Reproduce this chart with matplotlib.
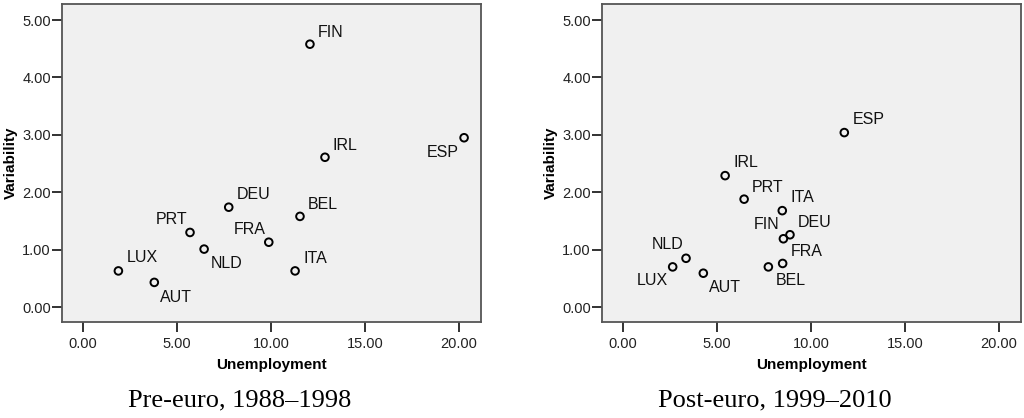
import matplotlib
matplotlib.use('Agg')
import matplotlib.pyplot as plt

# country codes and values
pre_codes = ['FIN', 'IRL', 'DEU', 'BEL', 'PRT', 'NLD', 'FRA', 'LUX', 'AUT', 'ITA', 'ESP']
pre_unemp = [12.07, 12.87, 7.75, 11.54, 5.69, 6.44, 9.88, 1.88, 3.79, 11.28, 20.27]
pre_var = [4.58, 2.61, 1.74, 1.58, 1.30, 1.01, 1.13, 0.63, 0.43, 0.63, 2.95]

post_codes = ['IRL', 'PRT', 'ITA', 'FIN', 'DEU', 'FRA', 'BEL', 'NLD', 'LUX', 'AUT', 'ESP']
post_unemp = [5.43, 6.44, 8.47, 8.53, 8.88, 8.49, 7.73, 3.35, 2.64, 4.27, 11.77]
post_var = [2.29, 1.88, 1.68, 1.19, 1.26, 0.76, 0.70, 0.85, 0.70, 0.59, 3.04]

captions = ['Pre-euro, 1988\u20131998', 'Post-euro, 1999\u20132010']
xticks = [0, 5, 10, 15, 20]
yticks = [0, 1, 2, 3, 4, 5]

# label placement (pixels from the point, horizontal alignment)
pre_offsets = {'FIN': (8, 12, 'left'), 'IRL': (8, 12, 'left'), 'DEU': (8, 13, 'left'),
               'BEL': (8, 12, 'left'), 'PRT': (-3, 13, 'right'), 'NLD': (7, -14, 'left'),
               'FRA': (-3, 13, 'right'), 'LUX': (8, 13, 'left'), 'AUT': (6, -15, 'left'),
               'ITA': (8, 12, 'left'), 'ESP': (-5, -15, 'right')}
post_offsets = {'IRL': (8, 13, 'left'), 'PRT': (8, 12, 'left'), 'ITA': (8, 13, 'left'),
                'FIN': (-4, 14, 'right'), 'DEU': (8, 12, 'left'), 'FRA': (8, 12, 'left'),
                'BEL': (7, -14, 'left'), 'NLD': (-3, 14, 'right'), 'LUX': (-5, -14, 'right'),
                'AUT': (6, -14, 'left'), 'ESP': (8, 13, 'left')}

plt.rcParams['font.family'] = ['Liberation Sans', 'DejaVu Sans']

fig = plt.figure(figsize=(10.24, 4.18), dpi=100)
axes = [fig.add_axes([62/1024, 1-322/418, 419/1024, 318/418]),
        fig.add_axes([602/1024, 1-322/418, 419/1024, 318/418])]
cap_x = [240/1024, 775/1024]

panels = [(pre_codes, pre_unemp, pre_var, pre_offsets),
          (post_codes, post_unemp, post_var, post_offsets)]

for ax, (codes, xs, ys, offs), cap, cx in zip(axes, panels, captions, cap_x):
    ax.set_facecolor('#f0f0f0')
    ax.scatter(xs, ys, s=30, facecolors='none', edgecolors='black', linewidths=1.4, zorder=3)
    for c, x, y in zip(codes, xs, ys):
        dx, dy, ha = offs[c]
        ax.annotate(c, (x, y), xytext=(dx, dy), textcoords='offset pixels',
                    ha=ha, va='center', fontsize=11.5, color='#111111')
    ax.set_xlim(-1.12, 21.17)
    ax.set_ylim(-0.26, 5.28)
    ax.set_xticks(xticks)
    ax.set_yticks(yticks)
    ax.set_xticklabels(['%.2f' % v for v in xticks])
    ax.set_yticklabels(['%.2f' % v for v in yticks])
    ax.tick_params(axis='both', direction='out', length=7, width=1.3, color='#222222',
                   labelsize=10.5, labelcolor='#222222')
    ax.tick_params(axis='x', pad=4)
    ax.tick_params(axis='y', pad=1)
    for sp in ax.spines.values():
        sp.set_color('#555555')
        sp.set_linewidth(1.3)
    ax.set_xlabel('Unemployment', fontsize=11, fontweight='bold', labelpad=5)
    ax.set_ylabel('Variability', fontsize=11, fontweight='bold', labelpad=3)
    fig.text(cx, 1 - 400/418, cap, ha='center', va='center',
             fontsize=19, family=['Liberation Serif', 'DejaVu Serif'])

fig.savefig('out.png', dpi=100)
